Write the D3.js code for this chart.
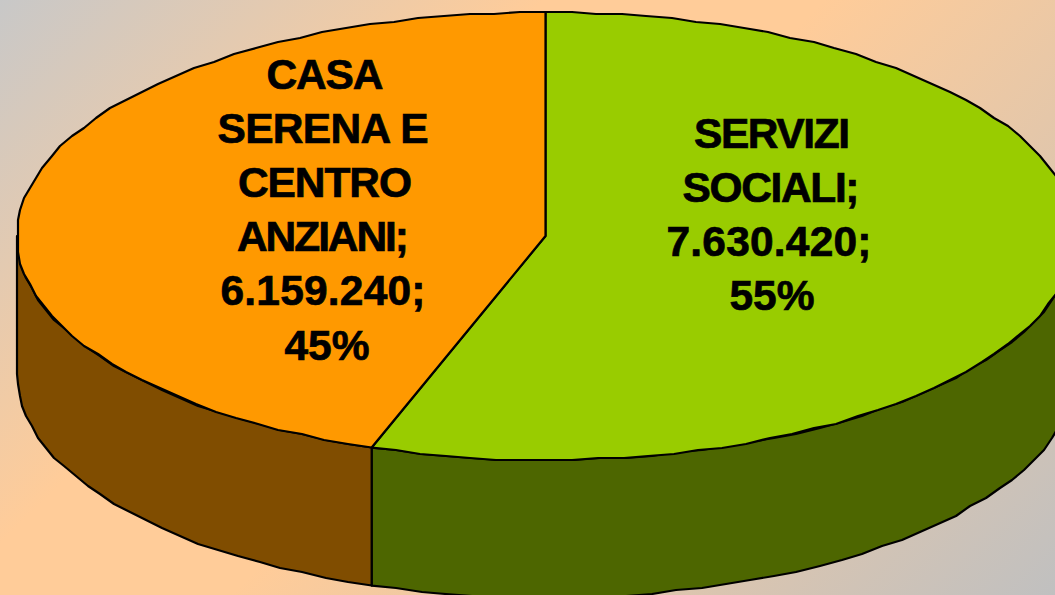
<!DOCTYPE html>
<html><head><meta charset="utf-8">
<script src="https://cdn.jsdelivr.net/npm/d3@7/dist/d3.min.js"></script>
<style>html,body{margin:0;padding:0;overflow:hidden}svg{display:block}</style>
</head><body><svg id="c" width="1055" height="595"></svg>
<script>
const categories = ["SERVIZI SOCIALI", "CASA SERENA E CENTRO ANZIANI"];
const values = [7630420, 6159240];
const percents = ["55%", "45%"];
const labelLines = [
  ["SERVIZI", "SOCIALI;", "7.630.420;", "55%"],
  ["CASA", "SERENA E", "CENTRO", "ANZIANI;", "6.159.240;", "45%"]
];
const topColors = ["#99CC00", "#FF9900"];
const sideColors = ["#4D6600", "#804D00"];

const W = 1055, H = 595;
const cx = 545.5, cy = 236, rx = 528.5, ry = 224, depth = 138;
const svg = d3.select("#c");
const defs = svg.append("defs");
const grad = defs.append("linearGradient").attr("id", "bg")
  .attr("gradientUnits", "userSpaceOnUse")
  .attr("x1", 0).attr("y1", 0).attr("x2", (W + H) / 2).attr("y2", (W + H) / 2);
[[0, "#C8C8C8"], [0.33, "#FFCC99"], [0.5, "#FFCC99"], [1, "#C0C0C0"]].forEach(([o, c]) =>
  grad.append("stop").attr("offset", o).attr("stop-color", c));
svg.append("rect").attr("width", W).attr("height", H).attr("fill", "url(#bg)");

const arcs = d3.pie().sort(null).value(d => d)(values);
const sx = d3.scaleLinear().domain([-1, 1]).range([cx - rx, cx + rx]);
const sy = d3.scaleLinear().domain([-1, 1]).range([cy - ry, cy + ry]);
// the reference rim is a slightly uneven polyline: coarse samples on a small pixel grid
const q = v => Math.round(v / 2) * 2;
function rim(a0, a1, dy = 0) {
  const n = Math.max(2, Math.round(Math.abs(a1 - a0) * 130 / (2 * Math.PI)));
  return d3.range(n + 1).map(i => {
    const a = a0 + (a1 - a0) * i / n;
    const edge = i === 0 || i === n;
    const x = sx(Math.sin(a)), y = sy(-Math.cos(a)) + dy;
    return edge ? [x, y] : [q(x), q(y)];
  });
}
const line = d3.line();
function style(sel) {
  return sel.attr("stroke", "#000").attr("stroke-width", 2.2).attr("stroke-linejoin", "round");
}

// side walls (only the front half, from 90deg to 270deg)
const vis = [[Math.PI / 2, arcs[0].endAngle, 0], [arcs[1].startAngle, 3 * Math.PI / 2, 1]];
vis.forEach(([a0, a1, i]) => {
  const pts = rim(a0, a1, 0).concat(rim(a1, a0, depth));
  style(svg.append("path").attr("d", line(pts) + "Z").attr("fill", sideColors[i]));
});
// tops
arcs.forEach((d, i) => {
  const pts = [[sx(0), sy(0)]].concat(rim(d.startAngle, d.endAngle));
  style(svg.append("path").attr("d", line(pts) + "Z").attr("fill", topColors[i]));
});
// labels
const fontSize = 42.5, lh = 54.1;
const anchors = [[770, 148], [324, 89]];
const lineLengths = [[156, 177, 205, 85], [117, 211, 174, 172, 205, 85]];
const lineShift = [[2, 1, -1, 2], [1, -1, 1, -1, -1, 3]];
labelLines.forEach((ls, i) => {
  ls.forEach((s, j) => svg.append("text")
    .attr("font-family", "'Liberation Sans', Arial, sans-serif")
    .attr("font-weight", "bold").attr("font-size", fontSize).attr("fill", "#000")
    .attr("stroke", "#000").attr("stroke-width", 0.7)
    .attr("text-anchor", "middle")
    .attr("x", anchors[i][0] + lineShift[i][j]).attr("y", anchors[i][1] + j * lh)
    .attr("textLength", lineLengths[i][j]).attr("lengthAdjust", "spacing")
    .text(s));
});
</script></body></html>
